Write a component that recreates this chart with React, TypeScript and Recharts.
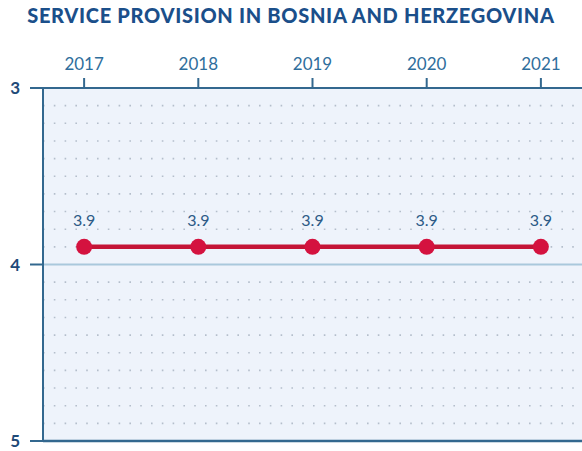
import {
  LineChart,
  Line,
  XAxis,
  YAxis,
  CartesianGrid,
  ReferenceLine,
  LabelList,
} from "recharts";

const years = [2017, 2018, 2019, 2020, 2021];
const scores = [3.9, 3.9, 3.9, 3.9, 3.9];
const yTicks = [3, 4, 5];
// rows of the dotted background
const dotRows = [
  3.1, 3.2, 3.3, 3.4, 3.5, 3.6, 3.7, 3.8, 3.9, 4.1, 4.2, 4.3, 4.4, 4.5, 4.6,
  4.7, 4.8, 4.9,
];

const data = years.map((year, i) => ({ year, score: scores[i] }));

const AXIS = "#33688f";
const FONT = "Lato, 'Open Sans', sans-serif";

const dotRowPositions = ({ yAxis, offset }: any) => {
  const s = yAxis && yAxis.scale;
  if (typeof s === "function") return dotRows.map((v) => s(v));
  if (s && typeof s.map === "function") return dotRows.map((v) => s.map(v));
  // fallback: reversed axis 3 (top) .. 5 (bottom)
  return dotRows.map((v) => offset.top + ((v - 3) / 2) * offset.height);
};

export default function App() {
  return (
    <div style={{ position: "absolute", left: 0, top: 0, width: 582, height: 451, background: "#fff" }}>
      <div
        style={{
          position: "absolute",
          top: 3,
          left: 0,
          width: 582,
          textAlign: "center",
          fontFamily: FONT,
          fontWeight: 900,
          fontSize: 20,
          color: "#1b4f8a",
          letterSpacing: 0.7,
        }}
      >
        SERVICE PROVISION IN BOSNIA AND HERZEGOVINA
      </div>
      <LineChart
        width={582}
        height={451}
        data={data}
        margin={{ top: 57, right: 0, bottom: 10, left: 0 }}
      >
        <CartesianGrid
          vertical={false}
          fill="#eef3fb"
          fillOpacity={1}
          stroke="#b4becb"
          strokeWidth={1.6}
          strokeDasharray="1.6 9.2"
          horizontalCoordinatesGenerator={dotRowPositions}
        />
        <XAxis
          dataKey="year"
          type="number"
          orientation="top"
          domain={[2016.64, 2021.36]}
          ticks={years}
          height={31}
          tickSize={10}
          tickMargin={8}
          axisLine={{ stroke: AXIS, strokeWidth: 2 }}
          tickLine={{ stroke: AXIS, strokeWidth: 2 }}
          tick={{ fill: "#2f6e9c", fontSize: 17, fontFamily: FONT }}
          allowDataOverflow
        />
        <YAxis
          domain={[3, 5]}
          reversed
          ticks={yTicks}
          width={43}
          tickSize={13}
          tickMargin={10}
          axisLine={{ stroke: AXIS, strokeWidth: 2 }}
          tickLine={{ stroke: AXIS, strokeWidth: 2 }}
          tick={{ fill: "#1e4a78", fontSize: 17, fontWeight: 700, fontFamily: FONT }}
        />
        <ReferenceLine y={4} stroke="#a9c8dc" strokeWidth={2} />
        <ReferenceLine y={5} stroke={AXIS} strokeWidth={2.5} />
        <Line
          dataKey="score"
          stroke="#c41436"
          strokeWidth={4.5}
          dot={{ r: 8, fill: "#d4123f", stroke: "none" }}
          activeDot={false}
          isAnimationActive={false}
        >
          <LabelList
            dataKey="score"
            position="top"
            offset={21}
            fill="#2c5a86"
            fontSize={16}
            fontFamily={FONT}
            formatter={(v: number) => v.toFixed(1)}
          />
        </Line>
      </LineChart>
    </div>
  );
}
